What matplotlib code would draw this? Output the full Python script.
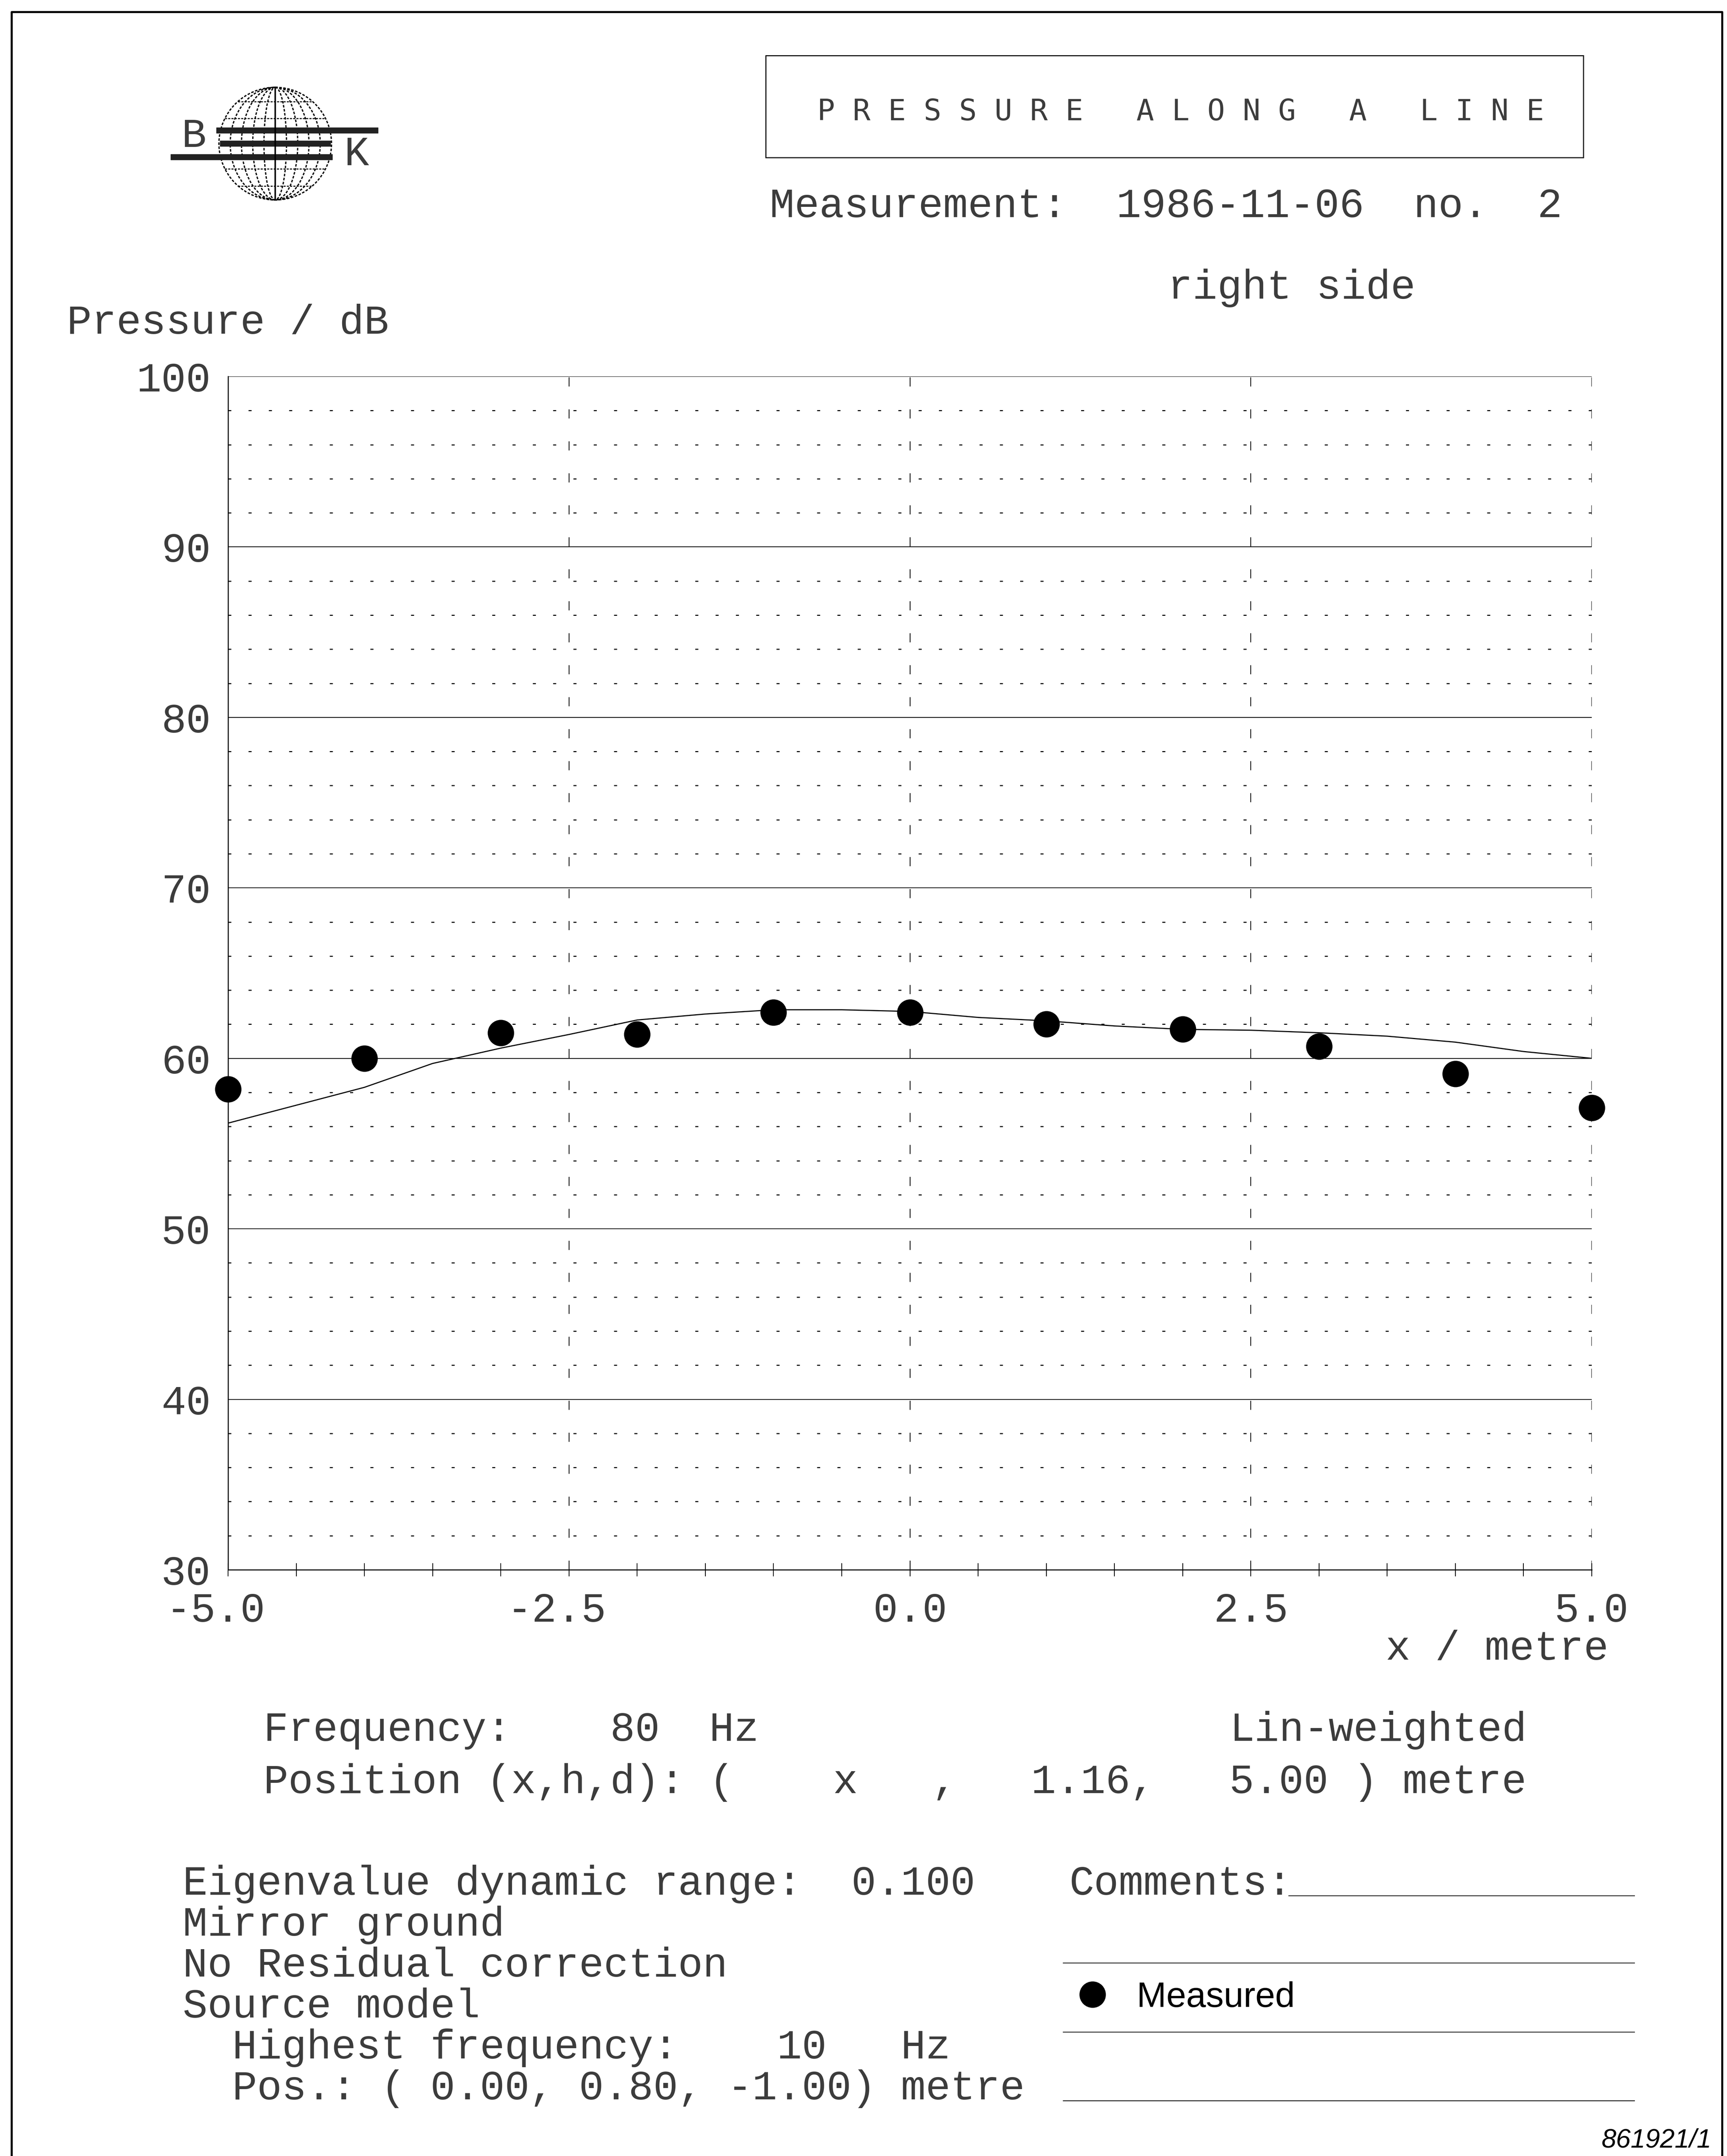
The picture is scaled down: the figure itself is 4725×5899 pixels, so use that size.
import numpy as np
import matplotlib
matplotlib.use('Agg')
import matplotlib.pyplot as plt
from matplotlib.lines import Line2D
from matplotlib.patches import Rectangle, Ellipse, Circle
from matplotlib.ticker import MultipleLocator
import matplotlib.transforms as mtransforms

plt.rcParams['font.family'] = ['Liberation Mono', 'DejaVu Sans Mono']
plt.rcParams['axes.unicode_minus'] = False

# measured sound pressure along the line (dB)
x_meas = [-5, -4, -3, -2, -1, 0, 1, 2, 3, 4, 5]
p_meas = [58.2, 60.0, 61.5, 61.4, 62.7, 62.7, 62.0, 61.7, 60.7, 59.1, 57.1]

# model curve
x_model = [-5.0, -4.5, -4.0, -3.5, -3.0, -2.5, -2.0, -1.5, -1.0, -0.5, 0.0,
           0.5, 1.0, 1.5, 2.0, 2.5, 3.0, 3.5, 4.0, 4.5, 5.0]
p_model = [56.2, 57.25, 58.3, 59.7, 60.6, 61.4, 62.25, 62.6, 62.85, 62.85, 62.75,
           62.4, 62.2, 61.9, 61.7, 61.65, 61.5, 61.3, 60.95, 60.4, 60.0]

y_ticks = [30, 40, 50, 60, 70, 80, 90, 100]
x_ticks = [-5.0, -2.5, 0.0, 2.5, 5.0]
x_ticklabels = ['-5.0', '-2.5', '0.0', '2.5', '5.0']

W, H = 4725, 5899
FS = 81.4          # plotter text, ~68 px per character
TC = '#3c3c3c'     # plotter pen looks a bit lighter than solid black
fig = plt.figure(figsize=(W / 100, H / 100), dpi=100)

# page overlay in pixel units (y down)
ov = fig.add_axes([0, 0, 1, 1])
ov.set_xlim(0, W)
ov.set_ylim(H, 0)
ov.axis('off')


def put(x, y, s, **kw):
    kw.setdefault('fontsize', FS)
    kw.setdefault('color', TC)
    ov.text(x, y, s, va='baseline', **kw)


# page frame
ov.plot([32, 32, 4712, 4712], [H, 33, 33, H], color='k', lw=4, clip_on=False)

# B&K logo
cx, cy, r = 753, 393, 154
dot = (0, (2, 1.2))
ov.add_patch(Circle((cx, cy), r, fill=False, lw=2.5, ls=dot, color='k'))
for k in [0.2, 0.4, 0.6, 0.8]:
    ov.add_patch(Ellipse((cx, cy), 2 * r * k, 2 * r, fill=False, lw=2.5, ls=dot, color='k'))
ov.plot([cx, cx], [cy - r, cy + r], color='k', lw=3)
for f in [-0.75, -0.45, 0.45, 0.75]:
    half = r * np.sqrt(1 - f ** 2)
    ov.plot([cx - half, cx + half], [cy + f * r] * 2, color='k', lw=2, ls=dot)
ov.add_patch(Rectangle((592, 349), 442, 15, color='#222222'))
ov.add_patch(Rectangle((602, 385), 302, 15, color='#222222'))
ov.add_patch(Rectangle((467, 422), 442, 15, color='#222222'))
put(497, 402, 'B')
put(942, 452, 'K')

# title box
ov.add_patch(Rectangle((2095, 152), 2237, 279, fill=False, lw=2, color='k'))
ov.text(2236, 329, 'P R E S S U R E   A L O N G   A   L I N E', fontsize=58,
        family=['DejaVu Sans Mono'], va='baseline', color=TC)
put(2106, 594, 'Measurement:  1986-11-06  no.  2')
put(3195, 817, 'right side')
put(183, 912, 'Pressure / dB')
put(3791, 4540, 'x / metre')

put(721, 4763, 'Frequency:    80  Hz')
put(3365, 4763, 'Lin-weighted')
put(721, 4906, 'Position (x,h,d): (    x   ,   1.16,   5.00 ) metre')

left_block = ['Eigenvalue dynamic range:  0.100',
              'Mirror ground',
              'No Residual correction',
              'Source model',
              '  Highest frequency:    10   Hz',
              '  Pos.: ( 0.00, 0.80, -1.00) metre']
for i, line in enumerate(left_block):
    put(500, 5184 + i * 112, line)

put(2926, 5184, 'Comments:')
ov.plot([3526, 4472], [5187, 5187], color='k', lw=1.5)
for yy in [5371, 5560, 5748]:
    ov.plot([2909, 4472], [yy, yy], color='k', lw=1.5)

ov.text(4682, 5876, '861921/1', fontsize=52, family=['Liberation Sans'],
        style='italic', ha='right', va='baseline')

# main chart
ax = fig.add_axes([624 / W, 1 - 4295 / H, (4355 - 624) / W, (4295 - 1030) / H])
ax.patch.set_visible(False)
ax.set_xlim(-5, 5)
ax.set_ylim(30, 100)

ax.plot(x_model, p_model, color='k', lw=2.2, zorder=3)
ax.plot(x_meas, p_meas, 'o', color='k', markersize=51, ls='none',
        clip_on=False, zorder=4)

ax.set_yticks(y_ticks)
ax.set_yticklabels([str(v) for v in y_ticks])
ax.yaxis.set_minor_locator(MultipleLocator(2))
ax.set_xticks(x_ticks)
ax.set_xticklabels(x_ticklabels)
ax.xaxis.set_minor_locator(MultipleLocator(0.5))
ax.tick_params(axis='y', which='both', length=0, pad=34, labelsize=FS, labelcolor=TC)
ax.tick_params(axis='x', which='both', direction='inout', length=26, width=1.5,
               pad=30, labelsize=FS, labelcolor=TC)

ax.yaxis.grid(True, which='major', color='k', lw=1.5)
ax.yaxis.grid(True, which='minor', color='k', lw=2, ls=(0, (3, 17)))
ax.xaxis.grid(True, which='major', color='k', lw=1.5, ls=(0, (12, 30)))
ax.spines['top'].set_visible(False)
ax.spines['right'].set_visible(False)
ax.spines['left'].set_linewidth(2)
ax.spines['bottom'].set_linewidth(2)

# minus-signed labels keep the digits centred on the tick
for lab, v in zip(ax.get_xticklabels(), x_ticks):
    if v < 0:
        lab.set_transform(lab.get_transform() +
                          mtransforms.ScaledTranslation(-0.34, 0, fig.dpi_scale_trans))

fig.legend(handles=[Line2D([], [], marker='o', color='k', ls='none', markersize=51)],
           labels=['Measured'], loc='center left',
           bbox_to_anchor=(2940 / W, 1 - 5466 / H), bbox_transform=fig.transFigure,
           frameon=False, prop={'family': 'Liberation Sans', 'size': 70},
           handlelength=1.0, handletextpad=0.75, borderpad=0, borderaxespad=0)

fig.savefig('out.png', dpi=100, facecolor='white')
